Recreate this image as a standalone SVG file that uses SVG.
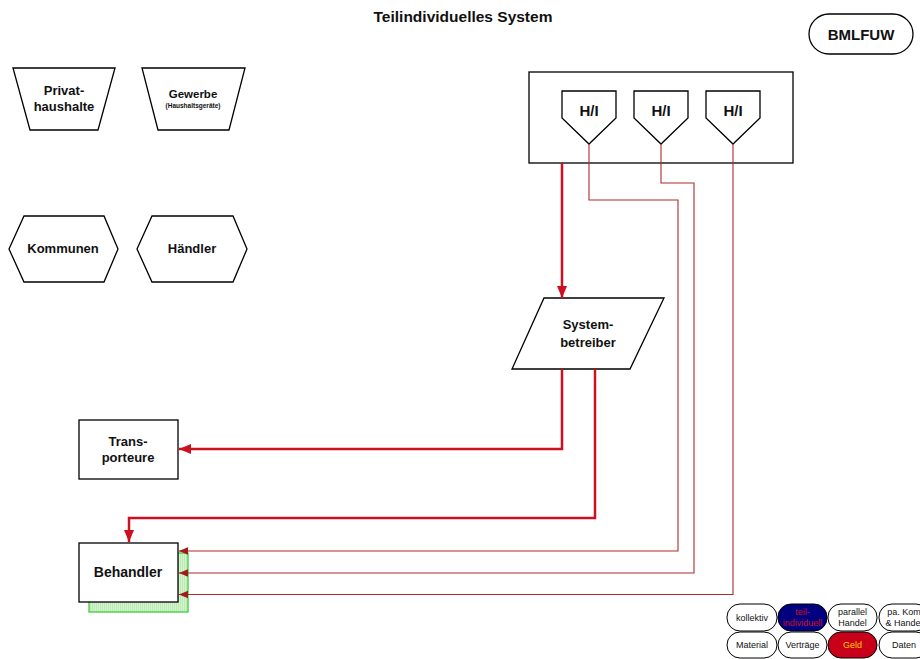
<svg xmlns="http://www.w3.org/2000/svg" width="920" height="659" viewBox="0 0 920 659">
  <style>
    .shape { fill: #ffffff; stroke: #000000; stroke-width: 1.3; }
    .lbl { font-family: "Liberation Sans", Arial, sans-serif; font-weight: bold; font-size: 13px; fill: #111111; text-anchor: middle; }
    .hi { font-size: 15px; }
    .thick { fill: none; stroke: #cc1020; stroke-width: 2.5; }
    .thin { fill: none; stroke: #b02a2a; stroke-width: 1.1; }
    .pill { stroke: #000000; stroke-width: 1; }
    .leg { font-family: "Liberation Sans", Arial, sans-serif; font-size: 9px; text-anchor: middle; fill: #111111; }
  </style>
  <defs>
    <marker id="arrowThick" markerUnits="userSpaceOnUse" markerWidth="12" markerHeight="12" viewBox="0 0 12 12" refX="12" refY="6" orient="auto">
      <path d="M0,1 L12,6 L0,11 Z" fill="#cc1020"/>
    </marker>
    <marker id="arrowThin" markerUnits="userSpaceOnUse" markerWidth="9" markerHeight="9" viewBox="0 0 9 9" refX="9" refY="4.5" orient="auto">
      <path d="M0,0.8 L9,4.5 L0,8.2 Z" fill="#a01c1c"/>
    </marker>
    <pattern id="hatch" patternUnits="userSpaceOnUse" width="2" height="4">
      <rect width="2" height="4" fill="#d3f4cd"/>
      <line x1="0.5" y1="0" x2="0.5" y2="4" stroke="#bde9b5" stroke-width="1"/>
    </pattern>
  </defs>

  <!-- title -->
  <text x="463" y="22" class="lbl" style="font-size:15.5px">Teilindividuelles System</text>

  <g id="bmlfuw">
    <rect x="809" y="14" width="104" height="40" rx="20" class="shape"/>
    <text x="861" y="40" class="lbl" style="font-size:15px">BMLFUW</text>
  </g>

  <g id="privathaushalte">
    <polygon points="13,68 115,68 98,130 30,130" class="shape"/>
    <text x="64" y="95" class="lbl">Privat-</text>
    <text x="64" y="111" class="lbl">haushalte</text>
  </g>

  <g id="gewerbe">
    <polygon points="142,68 245,68 229,130 158,130" class="shape"/>
    <text x="193" y="98" class="lbl" style="font-size:11.5px">Gewerbe</text>
    <text x="193" y="108" class="lbl" style="font-size:6.5px">(Haushaltsgeräte)</text>
  </g>

  <g id="kommunen">
    <polygon points="9,249 24,216 104,216 118,249 104,282 24,282" class="shape"/>
    <text x="63" y="253" class="lbl">Kommunen</text>
  </g>

  <g id="haendler">
    <polygon points="137,249 152,216 233,216 247,249 233,282 152,282" class="shape"/>
    <text x="192" y="253" class="lbl">Händler</text>
  </g>

  <g id="hi-gruppe">
    <rect x="529" y="72" width="264" height="91" class="shape"/>
    <g id="hi-1">
      <polygon points="562,91 616,91 616,118 589,144 562,118" class="shape"/>
      <text x="589" y="116" class="lbl hi">H/I</text>
    </g>
    <g id="hi-2">
      <polygon points="634,91 688,91 688,118 661,144 634,118" class="shape"/>
      <text x="661" y="116" class="lbl hi">H/I</text>
    </g>
    <g id="hi-3">
      <polygon points="706,91 760,91 760,118 733,144 706,118" class="shape"/>
      <text x="733" y="116" class="lbl hi">H/I</text>
    </g>
  </g>

  <g id="systembetreiber">
    <polygon points="544,298 664,298 630,369 512,369" class="shape"/>
    <text x="588" y="329" class="lbl">System-</text>
    <text x="588" y="347" class="lbl">betreiber</text>
  </g>

  <g id="transporteure">
    <rect x="79" y="420" width="99" height="59" class="shape"/>
    <text x="128" y="446" class="lbl">Trans-</text>
    <text x="128" y="462" class="lbl">porteure</text>
  </g>

  <g id="behandler">
    <rect x="89" y="553" width="99" height="59" fill="url(#hatch)" stroke="#3fcc3f" stroke-width="1.3"/>
    <rect x="79" y="543" width="99" height="59" class="shape"/>
    <text x="128" y="577" class="lbl" style="font-size:14px">Behandler</text>
  </g>

  <g id="connectors">
    <path d="M562,163 V298" class="thick" marker-end="url(#arrowThick)"/>
    <path d="M562,369 V449 H179" class="thick" marker-end="url(#arrowThick)"/>
    <path d="M595,369 V518 H129 V542" class="thick" marker-end="url(#arrowThick)"/>
    <path d="M589,144 V200 H678 V551 H179" class="thin" marker-end="url(#arrowThin)"/>
    <path d="M661,144 V183 H694 V573 H179" class="thin" marker-end="url(#arrowThin)"/>
    <path d="M733,144 V594.5 H179" class="thin" marker-end="url(#arrowThin)"/>
  </g>

  <g id="legende">
    <rect x="727" y="604" width="50" height="27" rx="13" fill="#ffffff" class="pill"/>
    <text x="752" y="621" class="leg">kollektiv</text>
    <rect x="778" y="604" width="49" height="27" rx="13" fill="#000080" class="pill"/>
    <text x="802.5" y="615" class="leg" style="fill:#cc1020">teil-</text>
    <text x="802.5" y="626" class="leg" style="fill:#cc1020">individuell</text>
    <rect x="828" y="604" width="49" height="27" rx="13" fill="#ffffff" class="pill"/>
    <text x="852.5" y="615" class="leg">parallel</text>
    <text x="852.5" y="626" class="leg">Handel</text>
    <rect x="879" y="604" width="50" height="27" rx="13" fill="#ffffff" class="pill"/>
    <text x="904" y="615" class="leg">pa. Kom</text>
    <text x="904" y="626" class="leg">&amp; Handel</text>

    <rect x="727" y="632" width="50" height="26" rx="13" fill="#ffffff" class="pill"/>
    <text x="752" y="648" class="leg">Material</text>
    <rect x="778" y="632" width="49" height="26" rx="13" fill="#ffffff" class="pill"/>
    <text x="802.5" y="648" class="leg">Verträge</text>
    <rect x="828" y="632" width="49" height="26" rx="13" fill="#c8001a" class="pill"/>
    <text x="852.5" y="648" class="leg" style="fill:#ffcc00">Geld</text>
    <rect x="879" y="632" width="50" height="26" rx="13" fill="#ffffff" class="pill"/>
    <text x="904" y="648" class="leg">Daten</text>
  </g>
</svg>
